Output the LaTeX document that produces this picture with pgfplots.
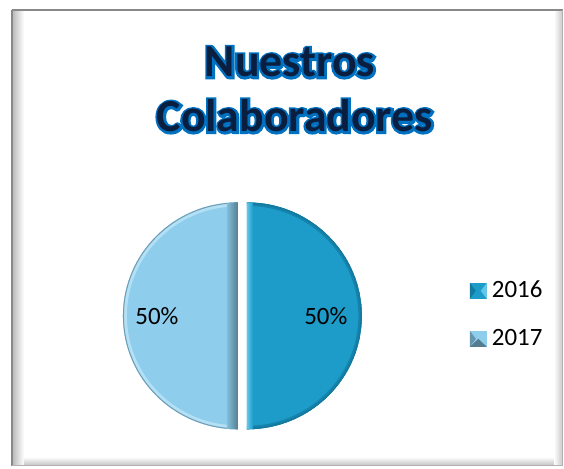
\documentclass[border=0pt]{standalone}
\usepackage{pgfplots}
\pgfplotsset{compat=1.18}
\usepackage{pgfplotstable}
\usepackage{fontspec}
\setmainfont{Carlito}
\newfontfamily\outfont[FakeBold=10]{Carlito Bold}
\definecolor{c16}{HTML}{1D9CCA}
\definecolor{c16d}{HTML}{12799F}
\definecolor{c16l}{HTML}{62C6E8}
\definecolor{c17}{HTML}{8ECDEC}
\definecolor{c17d}{HTML}{557D90}
\definecolor{c17l}{HTML}{BDE5F7}
\definecolor{tblue}{HTML}{0070C0}
\definecolor{tdark}{HTML}{0A1E40}
\definecolor{framec}{HTML}{888888}

\pgfplotstableread{
year value
2016 50
2017 50
}\piedata

\newcommand\tfont{\bfseries\fontsize{46}{55}\selectfont}
\newcommand\outl[3]{%
 \node[tblue,anchor=base,font=\outfont\fontsize{46}{55}\selectfont,inner sep=0] at (axis cs:#1,#2) {#3};
 \node[tdark,anchor=base,font=\tfont,inner sep=0] at (axis cs:#1,#2) {#3};
}

\begin{document}
\begin{tikzpicture}
\pgfplotstablegetelem{0}{value}\of\piedata \edef\vA{\pgfplotsretval}
\pgfplotstablegetelem{1}{value}\of\piedata \edef\vB{\pgfplotsretval}
\pgfmathsetmacro\tot{\vA+\vB}
\pgfmathsetmacro\fA{\vA/\tot}
\pgfmathsetmacro\fB{\vB/\tot}
\pgfmathsetmacro\aEnd{90-360*\fA}
\pgfmathsetmacro\bEnd{\aEnd-360*\fB}
\pgfmathsetmacro\aMid{(90+\aEnd)/2}
\pgfmathsetmacro\bMid{(\aEnd+\bEnd)/2}
\pgfmathsetmacro\axc{242.5+4.5*cos(\aMid)}
\pgfmathsetmacro\ayc{-316+4.5*sin(\aMid)}
\pgfmathsetmacro\bxc{242.5+4.5*cos(\bMid)}
\pgfmathsetmacro\byc{-316+4.5*sin(\bMid)}
\pgfmathsetmacro\alx{\axc+79*cos(\aMid)}
\pgfmathsetmacro\aly{\ayc+79*sin(\aMid)-9}
\pgfmathsetmacro\blx{\bxc+81*cos(\bMid)}
\pgfmathsetmacro\bly{\byc+81*sin(\bMid)-9}
\pgfmathtruncatemacro\pA{round(100*\fA)}
\pgfmathtruncatemacro\pB{round(100*\fB)}
\begin{axis}[width=564bp,height=469bp,scale only axis,
  xmin=0,xmax=564,ymin=-469,ymax=0,hide axis,clip=false]
\path (axis cs:0,0) rectangle (axis cs:564,-469);
% frame with inner shadow
\shade[left color=black!28,right color=white] (axis cs:12,-10) rectangle (axis cs:24,-465);
\shade[left color=white,right color=black!22] (axis cs:554,-10) rectangle (axis cs:563,-465);
\shade[top color=white,bottom color=black!22] (axis cs:24,-457) rectangle (axis cs:554,-465);
\draw[framec,line width=2.5bp] (axis cs:12,-10) -- (axis cs:563,-10);
\draw[framec,line width=2.5bp] (axis cs:12,-10) -- (axis cs:12,-466);
\draw[black!30,line width=1.2bp] (axis cs:563,-10) -- (axis cs:563,-466) -- (axis cs:12,-466);
% title
\outl{290}{-77}{Nuestros}
\outl{295}{-132}{Colaboradores}
% slice 2016
\begin{scope}
\clip (axis cs:\axc,\ayc) -- ++(90:115bp and 113.5bp) arc[start angle=90,end angle=\aEnd,x radius=115bp,y radius=113.5bp] -- cycle;
\fill[c16] (axis cs:\axc,\ayc) -- ++(90:115bp and 113.5bp) arc[start angle=90,end angle=\aEnd,x radius=115bp,y radius=113.5bp] -- cycle;
\draw[c16d,line width=7bp,opacity=0.7] (axis cs:\axc,\ayc) ++(90:115bp and 113.5bp) arc[start angle=90,end angle=\aEnd,x radius=115bp,y radius=113.5bp];
\draw[c16d,line width=3bp] (axis cs:\axc,\ayc) ++(90:115bp and 113.5bp) arc[start angle=90,end angle=\aEnd,x radius=115bp,y radius=113.5bp];
\shade[left color=c16l,right color=c16] (axis cs:\axc,-202) rectangle (axis cs:\axc+6,-431);
\end{scope}
% slice 2017
\begin{scope}
\clip (axis cs:\bxc,\byc) -- ++(\aEnd:115bp and 113.5bp) arc[start angle=\aEnd,end angle=\bEnd,x radius=115bp,y radius=113.5bp] -- cycle;
\fill[c17] (axis cs:\bxc,\byc) -- ++(\aEnd:115bp and 113.5bp) arc[start angle=\aEnd,end angle=\bEnd,x radius=115bp,y radius=113.5bp] -- cycle;
\draw[c17l,line width=8bp,opacity=0.8] (axis cs:\bxc,\byc) ++(\aEnd:115bp and 113.5bp) arc[start angle=\aEnd,end angle=\bEnd,x radius=115bp,y radius=113.5bp];
\draw[c17d!60!c17,line width=2bp] (axis cs:\bxc,\byc) ++(\aEnd:115bp and 113.5bp) arc[start angle=\aEnd,end angle=\bEnd,x radius=115bp,y radius=113.5bp];
\shade[left color=c17!80!c17d,right color=c17d] (axis cs:\bxc-11,-202) rectangle (axis cs:\bxc,-431);
\end{scope}
% percentage labels
\node[anchor=base,font=\fontsize{25}{30}\selectfont,inner sep=0] at (axis cs:\alx,\aly) {\pA\%};
\node[anchor=base,font=\fontsize{25}{30}\selectfont,inner sep=0] at (axis cs:\blx,\bly) {\pB\%};
% legend
\fill[c16] (axis cs:470,-283) rectangle (axis cs:487,-299);
\fill[c16d] (axis cs:470,-283) -- (axis cs:476,-291) -- (axis cs:470,-299) -- cycle;
\fill[c16l] (axis cs:487,-283) -- (axis cs:481,-291) -- (axis cs:487,-299) -- cycle;
\fill[c17] (axis cs:470,-331) rectangle (axis cs:487,-347);
\fill[c17d] (axis cs:470,-347) -- (axis cs:478.5,-339) -- (axis cs:487,-347) -- cycle;
\fill[c17d!70!c17] (axis cs:470,-331) -- (axis cs:476,-339) -- (axis cs:470,-347) -- cycle;
\node[anchor=base west,font=\fontsize{25}{30}\selectfont,inner sep=0] at (axis cs:492,-298) {2016};
\node[anchor=base west,font=\fontsize{25}{30}\selectfont,inner sep=0] at (axis cs:492,-346) {2017};
\end{axis}
\end{tikzpicture}
\end{document}
